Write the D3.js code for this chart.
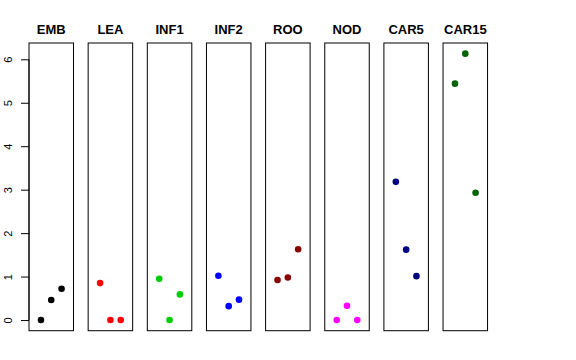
<!DOCTYPE html>
<html>
<head>
<meta charset="utf-8">
<script src="https://cdn.jsdelivr.net/npm/d3@7"></script>
<style>
body { margin: 0; background: #fff; }
</style>
</head>
<body>
<script>
var tissues = ["EMB", "LEA", "INF1", "INF2", "ROO", "NOD", "CAR5", "CAR15"];
var colors = ["#000000", "#ff0000", "#00cd00", "#0000ff", "#8b0000", "#ff00ff", "#000080", "#006400"];
var reps = [1, 2, 3];
var values = [
	[0.00, 0.46, 0.72],
	[0.85, 0.00, 0.00],
	[0.95, 0.00, 0.59],
	[1.02, 0.32, 0.47],
	[0.92, 0.98, 1.63],
	[0.00, 0.33, 0.00],
	[3.18, 1.62, 1.01],
	[5.44, 6.13, 2.93]
];
var yTicks = [0, 1, 2, 3, 4, 5, 6];

var w = 576, h = 360;
var plotTop = 43, plotBottom = 330.7;
var left0 = 29, pw = 44.5, step = 59.15;

var svg = d3.select("body").append("svg").attr("width", w).attr("height", h);

var y = d3.scaleLinear().domain([-0.245, 6.375]).range([plotBottom, plotTop]);
var x = d3.scaleLinear().domain([-0.16, 4.16]).range([0, pw]);

var yAxis = svg.append("g")
	.attr("transform", "translate(" + left0 + ",0)")
	.call(d3.axisLeft(y).tickValues(yTicks).tickSize(8).tickPadding(10).tickFormat(d3.format("d")));
yAxis.select(".domain").attr("d", "M0," + y(0) + "V" + y(6)).attr("stroke", "#000");
yAxis.selectAll(".tick line").attr("stroke", "#000");
yAxis.selectAll(".tick text")
	.attr("font-family", "Liberation Sans, Helvetica, Arial, sans-serif")
	.attr("font-size", "11px")
	.attr("fill", "#000")
	.attr("text-anchor", "middle")
	.attr("dy", null)
	.attr("x", null)
	.attr("transform", "translate(-21,0) rotate(-90)")
	.attr("dominant-baseline", "central");

var panels = svg.selectAll("g.panel").data(tissues).enter().append("g")
	.attr("class", "panel")
	.attr("transform", function(d, i) { return "translate(" + (left0 + i * step) + ",0)"; });

panels.append("rect")
	.attr("x", 0).attr("y", plotTop)
	.attr("width", pw).attr("height", plotBottom - plotTop)
	.attr("fill", "none").attr("stroke", "#000").attr("stroke-width", 1);

panels.append("text")
	.attr("x", pw / 2).attr("y", 34)
	.attr("text-anchor", "middle")
	.attr("font-family", "Liberation Sans, Helvetica, Arial, sans-serif")
	.attr("font-weight", "bold")
	.attr("font-size", "13px")
	.text(function(d) { return d; });

panels.each(function(d, i) {
	d3.select(this).selectAll("circle").data(values[i]).enter().append("circle")
		.attr("cx", function(v, j) { return x(reps[j]); })
		.attr("cy", function(v) { return y(v); })
		.attr("r", 3.3)
		.attr("fill", colors[i]);
});
</script>
</body>
</html>
